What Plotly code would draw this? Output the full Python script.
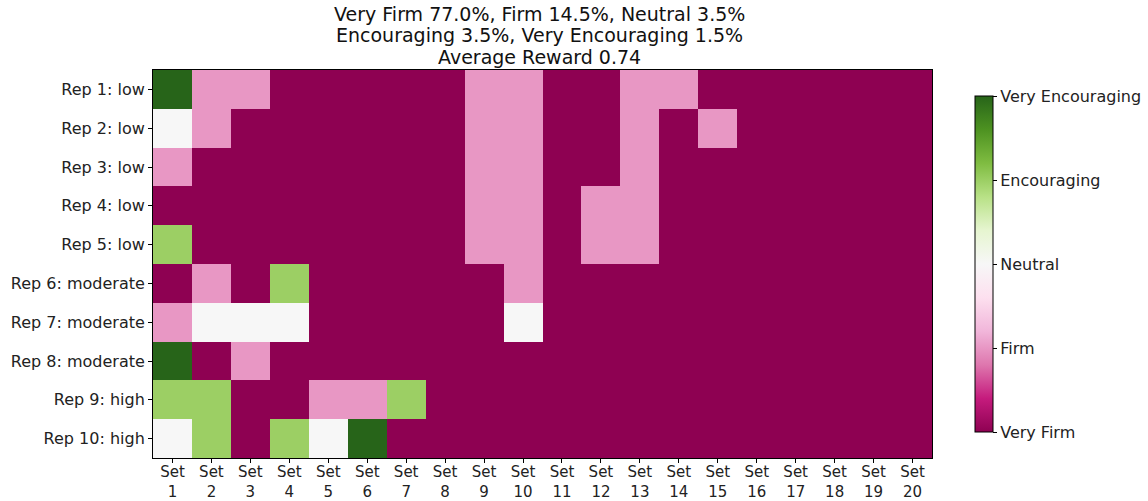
import plotly.graph_objects as go

# Rating scale: 0 = Very Firm ... 4 = Very Encouraging
levels = ["Very Firm", "Firm", "Neutral", "Encouraging", "Very Encouraging"]

reps = ["Rep 1: low", "Rep 2: low", "Rep 3: low", "Rep 4: low", "Rep 5: low",
        "Rep 6: moderate", "Rep 7: moderate", "Rep 8: moderate",
        "Rep 9: high", "Rep 10: high"]
sets = [f"Set<br>{i}" for i in range(1, 21)]

rep1 = [4, 1, 1, 0, 0, 0, 0, 0, 1, 1, 0, 0, 1, 1, 0, 0, 0, 0, 0, 0]
rep2 = [2, 1, 0, 0, 0, 0, 0, 0, 1, 1, 0, 0, 1, 0, 1, 0, 0, 0, 0, 0]
rep3 = [1, 0, 0, 0, 0, 0, 0, 0, 1, 1, 0, 0, 1, 0, 0, 0, 0, 0, 0, 0]
rep4 = [0, 0, 0, 0, 0, 0, 0, 0, 1, 1, 0, 1, 1, 0, 0, 0, 0, 0, 0, 0]
rep5 = [3, 0, 0, 0, 0, 0, 0, 0, 1, 1, 0, 1, 1, 0, 0, 0, 0, 0, 0, 0]
rep6 = [0, 1, 0, 3, 0, 0, 0, 0, 0, 1, 0, 0, 0, 0, 0, 0, 0, 0, 0, 0]
rep7 = [1, 2, 2, 2, 0, 0, 0, 0, 0, 2, 0, 0, 0, 0, 0, 0, 0, 0, 0, 0]
rep8 = [4, 0, 1, 0, 0, 0, 0, 0, 0, 0, 0, 0, 0, 0, 0, 0, 0, 0, 0, 0]
rep9 = [3, 3, 0, 0, 1, 1, 3, 0, 0, 0, 0, 0, 0, 0, 0, 0, 0, 0, 0, 0]
rep10 = [2, 3, 0, 3, 2, 4, 0, 0, 0, 0, 0, 0, 0, 0, 0, 0, 0, 0, 0, 0]

z = [rep1, rep2, rep3, rep4, rep5, rep6, rep7, rep8, rep9, rep10]

piyg = ["#8e0152", "#c51b7d", "#de77ae", "#f1b6da", "#fde0ef", "#f7f7f7",
        "#e6f5d0", "#b8e186", "#7fbc41", "#4d9221", "#276419"]
colorscale = [[i / (len(piyg) - 1), c] for i, c in enumerate(piyg)]

# Summary statistics for the title
flat = [v for row in z for v in row]
n = len(flat)
pct = [100 * flat.count(k) / n for k in range(5)]
title_lines = [
    f"Very Firm {pct[0]:.1f}%, Firm {pct[1]:.1f}%, Neutral {pct[2]:.1f}%",
    f"Encouraging {pct[3]:.1f}%, Very Encouraging {pct[4]:.1f}%",
    "Average Reward 0.74",
]

W, H = 1148, 501
font = "DejaVu Sans"
tick_font = dict(family=font, size=16, color="#222")

fig = go.Figure(go.Heatmap(
    z=z, x=sets, y=reps,
    zmin=0, zmax=4,
    colorscale=colorscale,
    colorbar=dict(
        tickvals=[0, 1, 2, 3, 4], ticktext=levels,
        ticks="outside", ticklen=4, tickcolor="black",
        thickness=18, len=336 / H, lenmode="fraction",
        x=975 / W, xanchor="left", y=1 - 264 / H, yanchor="middle",
        xpad=0, ypad=0,
        outlinewidth=1, outlinecolor="black",
        tickfont=tick_font,
    ),
))

title_y = [14, 35.5, 57]
fig.update_layout(
    width=W, height=H,
    margin=dict(l=0, r=0, t=0, b=0),
    paper_bgcolor="white", plot_bgcolor="white",
    font=dict(family=font, color="#222"),
    annotations=[dict(
        text=t, xref="paper", yref="paper", x=539 / W, y=1 - yy / H,
        xanchor="center", yanchor="middle", showarrow=False,
        font=dict(family=font, size=19, color="#111"),
    ) for t, yy in zip(title_lines, title_y)],
)
fig.update_xaxes(
    domain=[153 / W, 932 / W], automargin=False,
    showline=True, mirror=True, linecolor="black", linewidth=1,
    ticks="outside", ticklen=4, tickcolor="black",
    tickfont=dict(family=font, size=15, color="#222"),
    ticklabelstandoff=-4, tickangle=0, showgrid=False,
)
fig.update_yaxes(
    domain=[1 - 458 / H, 1 - 70 / H], automargin=False,
    autorange="reversed",
    showline=True, mirror=True, linecolor="black", linewidth=1,
    ticks="outside", ticklen=4, tickcolor="black",
    tickfont=tick_font, showgrid=False,
)

fig.write_html("out.html")
